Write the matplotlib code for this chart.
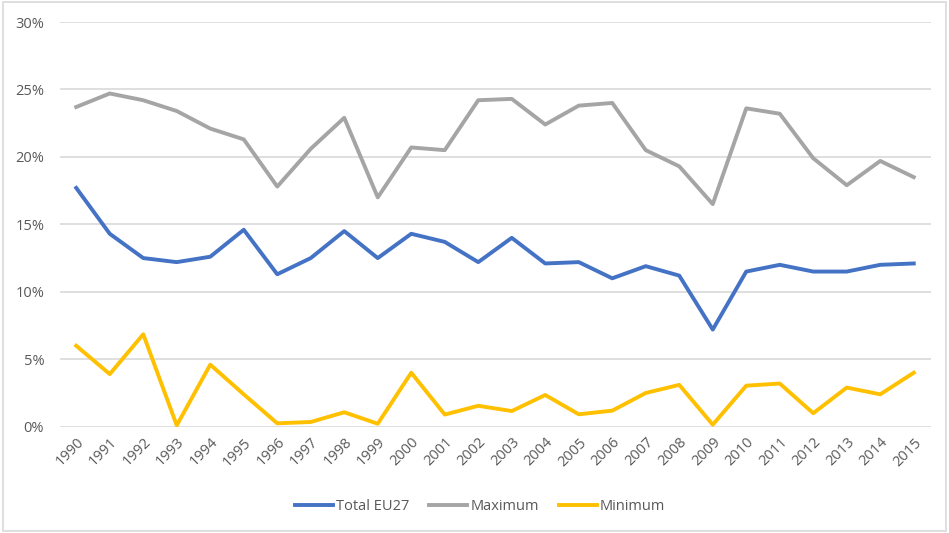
import matplotlib.pyplot as plt
from matplotlib.patches import Rectangle
from matplotlib.ticker import FuncFormatter

years = list(range(1990, 2016))
total_eu27 = [17.7, 14.3, 12.5, 12.2, 12.6, 14.6, 11.3, 12.5, 14.5, 12.5,
              14.3, 13.7, 12.2, 14.0, 12.1, 12.2, 11.0, 11.9, 11.2, 7.2,
              11.5, 12.0, 11.5, 11.5, 12.0, 12.1]
maximum = [23.7, 24.7, 24.2, 23.4, 22.1, 21.3, 17.8, 20.6, 22.9, 17.0,
           20.7, 20.5, 24.2, 24.3, 22.4, 23.8, 24.0, 20.5, 19.3, 16.5,
           23.6, 23.2, 19.9, 17.9, 19.7, 18.5]
minimum = [6.0, 3.9, 6.85, 0.1, 4.6, 2.4, 0.25, 0.35, 1.07, 0.22,
           4.0, 0.9, 1.55, 1.16, 2.35, 0.92, 1.19, 2.5, 3.1, 0.15,
           3.04, 3.2, 1.0, 2.9, 2.4, 4.0]

plt.rcParams['font.family'] = ['Open Sans', 'DejaVu Sans']
text_col = '#595959'

fig = plt.figure(figsize=(9.49, 5.33), dpi=100)
ax = fig.add_axes([59.5 / 949, 1 - 426.7 / 533, (930.5 - 59.5) / 949, (426.7 - 22) / 533])

x = list(range(len(years)))
ax.plot(x, total_eu27, color='#4472C4', lw=2.8, label='Total EU27', solid_joinstyle='round')
ax.plot(x, maximum, color='#A5A5A5', lw=2.8, label='Maximum', solid_joinstyle='round')
ax.plot(x, minimum, color='#FFC000', lw=2.8, label='Minimum', solid_joinstyle='round')

ax.set_xlim(-0.5, 25.5)
ax.set_ylim(0, 30)
ax.set_yticks(range(0, 31, 5))
ax.yaxis.set_major_formatter(FuncFormatter(lambda v, p: f'{v:.0f}%'))
ax.set_xticks(x)
ax.set_xticklabels([str(y) for y in years], rotation=45, ha='right', rotation_mode='anchor')
ax.grid(axis='y', color='#D9D9D9', lw=1.2)
ax.set_axisbelow(True)
for s in ax.spines.values():
    s.set_visible(False)
ax.tick_params(axis='both', length=0, colors=text_col, labelsize=10.5)
ax.tick_params(axis='y', pad=11)
ax.tick_params(axis='x', pad=6)

leg = ax.legend(loc='center', bbox_to_anchor=(480 / 949, 1 - 507 / 533),
                bbox_transform=fig.transFigure, ncol=3, frameon=False,
                fontsize=10.5, handlelength=2.6, handletextpad=0.2, columnspacing=1.4)
for t in leg.get_texts():
    t.set_color(text_col)

fig.patches.append(Rectangle((3 / 949, 2 / 533), 943 / 949, 529 / 533, transform=fig.transFigure,
                             fill=False, edgecolor='#D9D9D9', lw=1.2))

fig.savefig('out.png', dpi=100)
